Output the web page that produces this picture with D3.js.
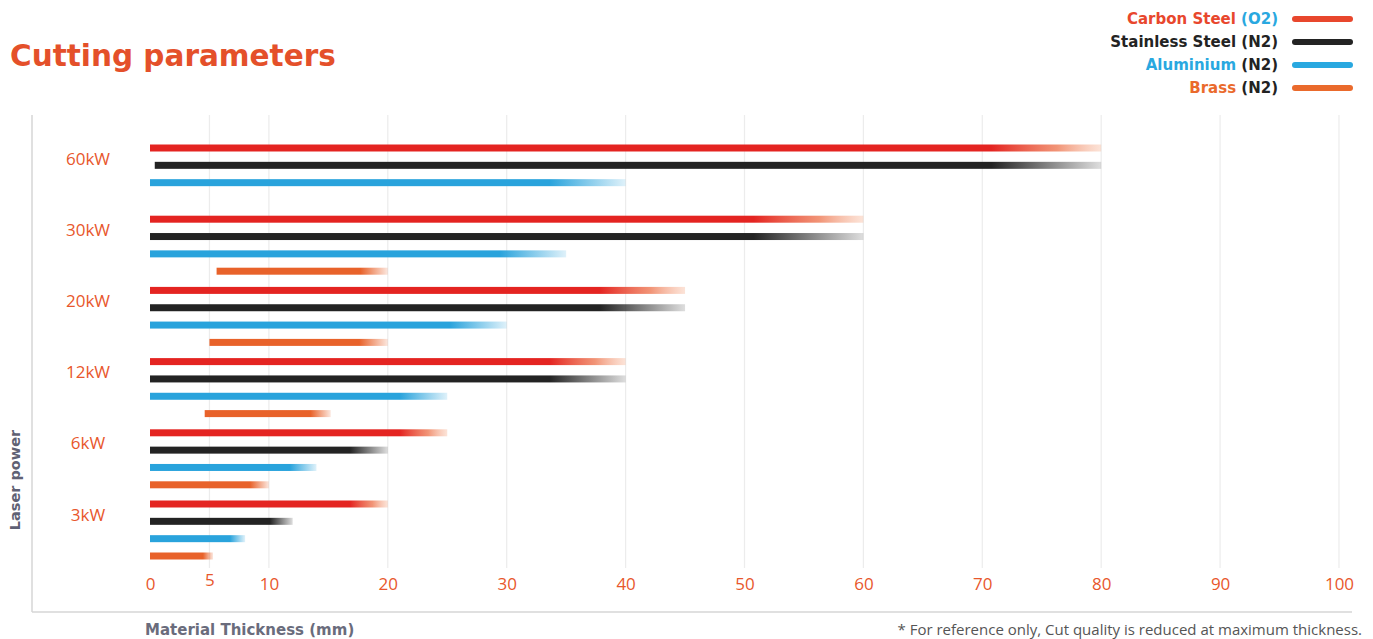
<!DOCTYPE html>
<html>
<head>
<meta charset="utf-8">
<script src="https://cdn.jsdelivr.net/npm/d3@7"></script>
<style>
  body { margin: 0; background: #fff; }
  svg { font-family: "Open Sans", "Noto Sans", sans-serif; }
</style>
</head>
<body>
<svg width="1373" height="639"></svg>
<script>
const powers = ["60kW", "30kW", "20kW", "12kW", "6kW", "3kW"];
const seriesNames = ["Carbon Steel", "Stainless Steel", "Aluminium", "Brass"];
const gasLabels = ["(O2)", "(N2)", "(N2)", "(N2)"];
// min / max thickness per power (null = not offered)
const carbonStart = [0, 0, 0, 0, 0, 0];
const carbonEnd = [80, 60, 45, 40, 25, 20];
const stainlessStart = [0.4, 0, 0, 0, 0, 0];
const stainlessEnd = [80, 60, 45, 40, 20, 12];
const aluminiumStart = [0, 0, 0, 0, 0, 0];
const aluminiumEnd = [40, 35, 30, 25, 14, 8];
const brassStart = [null, 5.6, 5, 4.6, 0, 0];
const brassEnd = [null, 20, 20, 15.2, 10, 5.3];
const xTicks = [0, 5, 10, 20, 30, 40, 50, 60, 70, 80, 90, 100];

const colors = ["#e42421", "#232323", "#29a3dc", "#e8622a"];
const legendColors = ["#e8472d", "#232323", "#29a8e0", "#ea6a2c"];
const orange = "#e8572c";
const wide = "'DejaVu Sans', sans-serif";

const svg = d3.select("svg");
const defs = svg.append("defs");

const x = d3.scaleLinear().domain([0, 100]).range([150, 1339]);
const yGroup = d3.scalePoint().domain(powers).range([148, 504]);
const yInner = d3.scaleLinear().domain([0, 3]).range([0, 52]);

// frame
svg.append("line").attr("x1", 32).attr("x2", 32).attr("y1", 115).attr("y2", 612)
    .attr("stroke", "#d6d6d6").attr("stroke-width", 1.5);
svg.append("line").attr("x1", 32).attr("x2", 1352).attr("y1", 612).attr("y2", 612)
    .attr("stroke", "#d6d6d6").attr("stroke-width", 1.5);

// grid
svg.selectAll(".grid").data(xTicks.filter(d => d > 0)).enter().append("line")
    .attr("x1", d => x(d)).attr("x2", d => x(d))
    .attr("y1", 115).attr("y2", 568)
    .attr("stroke", "#ececec").attr("stroke-width", 1.2);

// x axis labels
const xAxis = d3.axisBottom(x).tickValues(xTicks).tickSize(0).tickPadding(0).tickFormat(d3.format("d"));
const gx = svg.append("g").attr("transform", "translate(0,578)").call(xAxis);
gx.select(".domain").remove();
gx.selectAll("text").attr("fill", orange).style("font-size", "17px")
    .style("font-family", "'Open Sans', sans-serif");
gx.selectAll(".tick").filter(d => d === 5).select("text").attr("dy", "0.45em");

// power labels
svg.selectAll(".plabel").data(powers).enter().append("text")
    .attr("x", 88).attr("y", d => yGroup(d) + 12)
    .attr("text-anchor", "middle").attr("dominant-baseline", "middle")
    .attr("fill", orange).style("font-size", "17px")
    .text(d => d);

// bars
const starts = [carbonStart, stainlessStart, aluminiumStart, brassStart];
const ends = [carbonEnd, stainlessEnd, aluminiumEnd, brassEnd];
const bars = [];
powers.forEach((p, i) => {
    seriesNames.forEach((s, j) => {
        if (ends[j][i] == null) return;
        bars.push({ power: p, series: j, start: starts[j][i], end: ends[j][i] });
    });
});

bars.forEach((b, k) => {
    const x0 = x(b.start), x1 = x(b.end);
    const len = x1 - x0;
    const fade = Math.min(110, len * 0.16);
    const g = defs.append("linearGradient").attr("id", "g" + k)
        .attr("gradientUnits", "userSpaceOnUse")
        .attr("x1", x0).attr("x2", x1).attr("y1", 0).attr("y2", 0);
    const c = colors[b.series];
    g.append("stop").attr("offset", 0).attr("stop-color", c);
    g.append("stop").attr("offset", 1 - fade / len).attr("stop-color", c);
    if (b.series === 0) {
        g.append("stop").attr("offset", 1 - fade / len * 0.4).attr("stop-color", "#ee7a55").attr("stop-opacity", 0.8);
    }
    g.append("stop").attr("offset", 1).attr("stop-color", b.series === 0 ? "#f6b08f" : c).attr("stop-opacity", b.series === 0 ? 0.35 : 0.15);
});

svg.selectAll(".bar").data(bars).enter().append("rect")
    .attr("x", d => x(d.start))
    .attr("y", d => yGroup(d.power) + yInner(d.series) - 3.5)
    .attr("width", d => x(d.end) - x(d.start))
    .attr("height", 7)
    .attr("fill", (d, k) => "url(#g" + k + ")");

// title
svg.append("text").attr("x", 10).attr("y", 66)
    .attr("fill", "#e4502a").style("font-size", "29.5px").style("font-weight", 700)
    .style("font-family", wide)
    .text("Cutting parameters");

// legend
const legend = svg.selectAll(".legend").data(seriesNames).enter().append("g")
    .attr("transform", (d, i) => "translate(0," + (19 + i * 23) + ")");
legend.append("line").attr("x1", 1295).attr("x2", 1350).attr("y1", 0).attr("y2", 0)
    .attr("stroke", (d, i) => legendColors[i]).attr("stroke-width", 6).attr("stroke-linecap", "round");
const lt = legend.append("text").attr("x", 1278).attr("y", 0)
    .attr("text-anchor", "end").attr("dominant-baseline", "middle")
    .style("font-size", "15px").style("font-weight", 700).style("font-family", wide);
lt.append("tspan").attr("fill", (d, i) => i === 1 ? "#232323" : legendColors[i]).text(d => d + " ");
lt.append("tspan").attr("fill", (d, i) => i === 0 ? "#29a8e0" : "#232323").text((d, i) => gasLabels[i]);

// axis titles
svg.append("text").attr("transform", "translate(20,480) rotate(-90)")
    .attr("text-anchor", "middle").attr("fill", "#5f6173")
    .style("font-size", "14.5px").style("font-weight", 700).style("font-family", wide)
    .text("Laser power");
svg.append("text").attr("x", 145).attr("y", 635)
    .attr("fill", "#6a6c7c").style("font-size", "15px").style("font-weight", 700)
    .style("font-family", wide)
    .text("Material Thickness (mm)");
svg.append("text").attr("x", 1362).attr("y", 635)
    .attr("text-anchor", "end").attr("fill", "#555")
    .style("font-size", "15px")
    .text("*  For reference only, Cut quality is reduced at maximum thickness.");
</script>
</body>
</html>
